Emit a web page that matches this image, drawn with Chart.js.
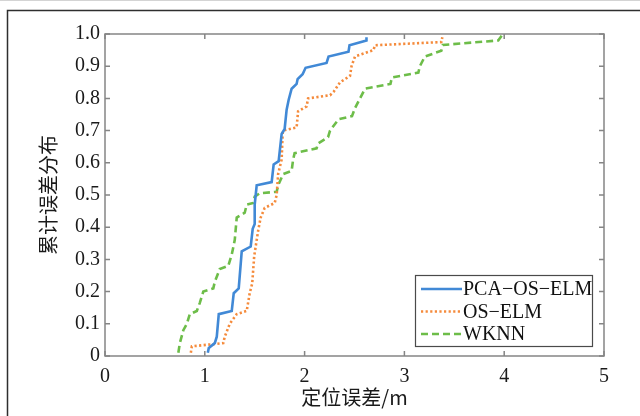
<!DOCTYPE html>
<html><head><meta charset="utf-8">
<script src="https://cdn.jsdelivr.net/npm/chart.js@4/dist/chart.umd.min.js"></script>
<style>html,body{margin:0;padding:0;background:#fff;}#wrap{width:640px;height:416px;position:relative;}</style>
</head><body><div id="wrap"><canvas id="c" width="640" height="416"></canvas></div>
<script>
const seriesNames = ['PCA−OS−ELM', 'OS−ELM', 'WKNN'];
const pcaX = [1.03,1.04,1.10,1.12,1.14,1.27,1.29,1.34,1.37,1.46,1.48,1.50,1.50,1.52,1.67,1.69,1.74,1.77,1.80,1.82,1.84,1.87,1.92,1.93,1.98,2.01,2.22,2.24,2.44,2.45,2.62,2.62];
const pcaY = [0.01,0.025,0.04,0.06,0.13,0.14,0.195,0.21,0.325,0.34,0.395,0.41,0.47,0.53,0.54,0.595,0.605,0.69,0.705,0.765,0.795,0.83,0.845,0.86,0.875,0.895,0.91,0.93,0.945,0.965,0.98,0.99];
const osX = [0.86,0.87,1.185,1.20,1.25,1.32,1.42,1.45,1.475,1.495,1.52,1.535,1.56,1.60,1.70,1.72,1.735,1.77,1.78,1.785,1.92,1.935,2.02,2.035,2.255,2.29,2.355,2.455,2.47,2.505,2.69,2.705,3.37,3.38];
const osY = [0.01,0.03,0.04,0.06,0.10,0.13,0.14,0.195,0.225,0.31,0.36,0.39,0.43,0.46,0.475,0.50,0.565,0.61,0.69,0.70,0.71,0.76,0.775,0.80,0.81,0.82,0.85,0.87,0.90,0.93,0.95,0.965,0.975,0.99];
const wkX = [0.735,0.75,0.785,0.82,0.85,0.92,0.95,0.985,1.085,1.10,1.15,1.235,1.27,1.30,1.32,1.40,1.42,1.485,1.50,1.55,1.72,1.735,1.785,1.87,1.885,1.90,2.12,2.135,2.235,2.255,2.34,2.475,2.505,2.555,2.605,2.86,2.875,3.14,3.155,3.205,3.37,3.385,3.94,3.975];
const wkY = [0.01,0.04,0.08,0.10,0.13,0.14,0.165,0.20,0.21,0.23,0.27,0.28,0.315,0.36,0.43,0.445,0.47,0.475,0.495,0.505,0.51,0.53,0.565,0.575,0.61,0.63,0.645,0.66,0.68,0.70,0.735,0.745,0.77,0.80,0.83,0.845,0.865,0.88,0.90,0.93,0.948,0.966,0.98,0.995];
const xTicks = [0, 1, 2, 3, 4, 5];
const yTicks = [0, 0.1, 0.2, 0.3, 0.4, 0.5, 0.6, 0.7, 0.8, 0.9, 1.0];
const yTickLabels = ['0', '0.1', '0.2', '0.3', '0.4', '0.5', '0.6', '0.7', '0.8', '0.9', '1.0'];
const xTitle = '定位误差/m';
const yTitle = '累计误差分布';

const pts = (xs, ys) => xs.map((v, i) => ({x: v, y: ys[i]}));
const tickFont = {family: '"Liberation Serif", "DejaVu Serif", serif', size: 20};
const titleFont = {family: '"Noto Sans CJK SC", sans-serif', size: 20};

const decor = {
  id: 'decor',
  beforeDraw(chart) {
    const ctx = chart.ctx;
    ctx.save();
    ctx.fillStyle = '#fff'; ctx.fillRect(0, 0, chart.width, chart.height);
    ctx.strokeStyle = '#d4d4d4'; ctx.lineWidth = 1;
    ctx.beginPath(); ctx.moveTo(0, 0.5); ctx.lineTo(chart.width, 0.5); ctx.stroke();
    ctx.strokeStyle = '#2e2e2e'; ctx.lineWidth = 1.5;
    ctx.beginPath(); ctx.moveTo(chart.width, 10.5); ctx.lineTo(7.5, 10.5); ctx.lineTo(7.5, chart.height); ctx.stroke();
    ctx.restore();
  },
  afterDatasetsDraw(chart) {
    const {ctx, chartArea: a, scales: {x, y}} = chart;
    ctx.save();
    ctx.strokeStyle = '#858585'; ctx.lineWidth = 1.5;
    ctx.strokeRect(a.left, a.top, a.right - a.left, a.bottom - a.top);
    ctx.beginPath();
    xTicks.forEach(v => { const p = x.getPixelForValue(v);
      ctx.moveTo(p, a.bottom); ctx.lineTo(p, a.bottom - 5);
      ctx.moveTo(p, a.top); ctx.lineTo(p, a.top + 5); });
    yTicks.forEach(v => { const p = y.getPixelForValue(v);
      ctx.moveTo(a.left, p); ctx.lineTo(a.left + 5, p);
      ctx.moveTo(a.right, p); ctx.lineTo(a.right - 5, p); });
    ctx.stroke();
    // legend
    const lx = 415, ly = 275, lw = 177, lh = 71;
    ctx.fillStyle = '#fff'; ctx.fillRect(lx, ly, lw, lh);
    ctx.strokeStyle = '#4a4a4a'; ctx.lineWidth = 1.2; ctx.strokeRect(lx + 0.5, ly + 0.5, lw, lh);
    const rows = [289, 311.5, 334];
    chart.data.datasets.forEach((ds, i) => {
      ctx.strokeStyle = ds.borderColor; ctx.lineWidth = ds.borderWidth;
      ctx.setLineDash(ds.borderDash || []);
      ctx.beginPath(); ctx.moveTo(421, rows[i]); ctx.lineTo(462, rows[i]); ctx.stroke();
      ctx.setLineDash([]);
      ctx.fillStyle = '#111'; ctx.font = '20px "Liberation Serif", serif';
      ctx.textBaseline = 'middle'; ctx.textAlign = 'left';
      ctx.fillText(ds.label, 463, rows[i] + 1);
    });
    ctx.restore();
  }
};

new Chart(document.getElementById('c'), {
  type: 'scatter',
  data: {
    datasets: [
      {label: seriesNames[0], data: pts(pcaX, pcaY), showLine: true, borderColor: '#4189d6', borderWidth: 2.6, pointRadius: 0, tension: 0},
      {label: seriesNames[1], data: pts(osX, osY), showLine: true, borderColor: '#f58b3c', borderWidth: 2.6, borderDash: [2.2, 2.4], pointRadius: 0, tension: 0},
      {label: seriesNames[2], data: pts(wkX, wkY), showLine: true, borderColor: '#6dbd49', borderWidth: 2.6, borderDash: [7, 4], pointRadius: 0, tension: 0}
    ]
  },
  options: {
    responsive: false, animation: false, devicePixelRatio: 1,
    layout: {padding: {left: 0, right: 36, top: 34, bottom: 0}},
    plugins: {legend: {display: false}, tooltip: {enabled: false}},
    scales: {
      x: {
        type: 'linear', min: 0, max: 5,
        afterBuildTicks: s => { s.ticks = xTicks.map(v => ({value: v})); },
        afterFit: s => { s.height = 60; },
        grid: {display: false, drawTicks: false},
        border: {display: false},
        ticks: {font: tickFont, color: '#1a1a1a', padding: 9, maxRotation: 0, callback: v => String(v)},
        title: {display: true, text: xTitle, font: titleFont, color: '#1a1a1a', padding: {top: 0, bottom: 7}}
      },
      y: {
        type: 'linear', min: 0, max: 1,
        afterBuildTicks: s => { s.ticks = yTicks.map(v => ({value: v})); },
        afterFit: s => { s.width = 105; },
        grid: {display: false, drawTicks: false},
        border: {display: false},
        ticks: {font: tickFont, color: '#1a1a1a', padding: 5, callback: (v) => yTickLabels[yTicks.findIndex(t => Math.abs(t - v) < 1e-9)]},
        title: {display: true, text: yTitle, font: titleFont, color: '#1a1a1a', padding: {top: 36, bottom: 0}}
      }
    }
  },
  plugins: [decor]
});
</script></body></html>
